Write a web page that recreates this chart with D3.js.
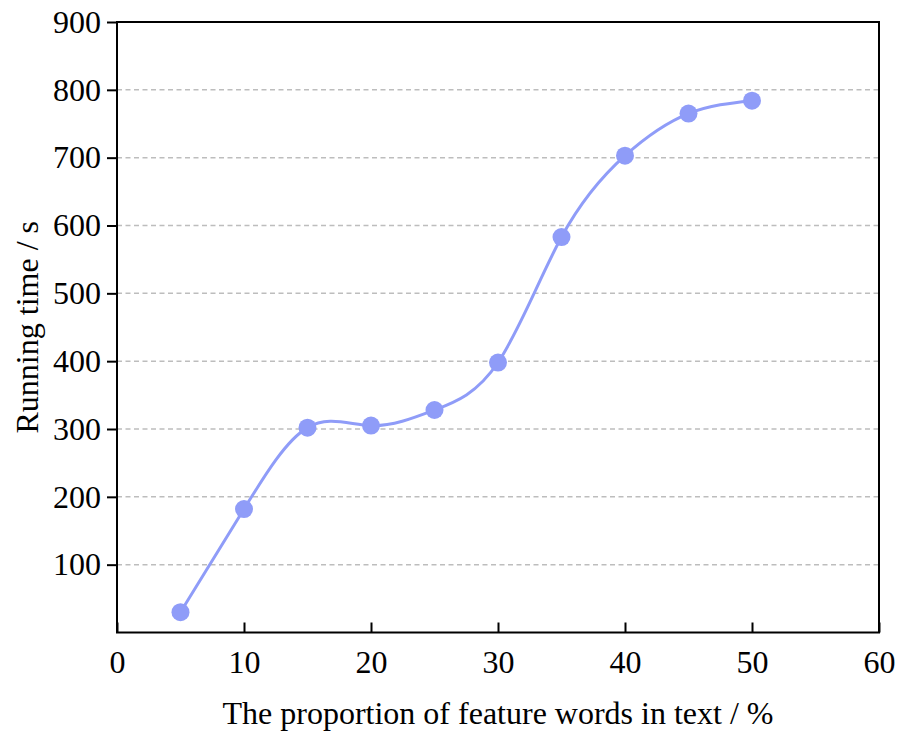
<!DOCTYPE html>
<html>
<head>
<meta charset="utf-8">
<script src="https://cdn.jsdelivr.net/npm/d3@7"></script>
<style>
  body { margin: 0; background: #fff; }
  text { font-family: "Liberation Serif", "Times New Roman", serif; }
</style>
</head>
<body>
<svg id="chart" width="900" height="731"></svg>
<script>
var proportion = [5, 10, 15, 20, 25, 30, 35, 40, 45, 50];
var runningTime = [30, 182, 302, 305, 328, 398, 583, 703, 765, 784];
var xTicks = [0, 10, 20, 30, 40, 50, 60];
var yTicks = [100, 200, 300, 400, 500, 600, 700, 800, 900];
var gridTicks = [100, 200, 300, 400, 500, 600, 700, 800];

var svg = d3.select('#chart');
var plotLeft = 117, plotRight = 879, plotTop = 22, plotBottom = 632.5;

var x = d3.scaleLinear().domain([0, 60]).range([plotLeft, plotRight]);
var y = d3.scaleLinear().domain([0, 900]).range([plotBottom, plotTop]);

// dashed grid
svg.append('g')
  .selectAll('line')
  .data(gridTicks)
  .enter().append('line')
  .attr('x1', plotLeft)
  .attr('x2', plotRight)
  .attr('y1', function(d) { return y(d); })
  .attr('y2', function(d) { return y(d); })
  .style('stroke', '#bdbdbd')
  .style('stroke-width', 1.5)
  .style('stroke-dasharray', '5,3.5');

// frame
svg.append('rect')
  .attr('x', plotLeft)
  .attr('y', plotTop)
  .attr('width', plotRight - plotLeft)
  .attr('height', plotBottom - plotTop)
  .style('fill', 'none')
  .style('stroke', '#000')
  .style('stroke-width', 2);

// x axis, ticks inward
var xAxis = svg.append('g')
  .attr('transform', 'translate(0,' + plotBottom + ')')
  .call(d3.axisBottom(x).tickValues(xTicks).tickSizeInner(-10).tickSizeOuter(0).tickPadding(18));
xAxis.select('.domain').remove();
xAxis.selectAll('line').style('stroke', '#000').style('stroke-width', 2);
xAxis.selectAll('text').style('font-size', '32px').style('fill', '#000')
  .style('font-family', '"Liberation Serif", serif');

// y axis, ticks outward
var yAxis = svg.append('g')
  .attr('transform', 'translate(' + plotLeft + ',0)')
  .call(d3.axisLeft(y).tickValues(yTicks).tickSizeInner(10).tickSizeOuter(0).tickPadding(6));
yAxis.select('.domain').remove();
yAxis.selectAll('line').style('stroke', '#000').style('stroke-width', 2);
yAxis.selectAll('text').style('font-size', '32px').style('fill', '#000')
  .style('font-family', '"Liberation Serif", serif');

// line
var points = proportion.map(function(p, i) { return [p, runningTime[i]]; });
var line = d3.line()
  .x(function(d) { return x(d[0]); })
  .y(function(d) { return y(d[1]); })
  .curve(d3.curveNatural);

svg.append('path')
  .datum(points)
  .attr('d', line)
  .style('fill', 'none')
  .style('stroke', '#8f9cf8')
  .style('stroke-width', 3);

svg.append('g')
  .selectAll('circle')
  .data(points)
  .enter().append('circle')
  .attr('cx', function(d) { return x(d[0]); })
  .attr('cy', function(d) { return y(d[1]); })
  .attr('r', 9)
  .style('fill', '#8f9cf8');

// labels
svg.append('text')
  .attr('x', (plotLeft + plotRight) / 2)
  .attr('y', 724)
  .attr('text-anchor', 'middle')
  .style('font-size', '32px')
  .text('The proportion of feature words in text / %');

svg.append('text')
  .attr('transform', 'translate(38,' + (plotTop + plotBottom) / 2 + ') rotate(-90)')
  .attr('text-anchor', 'middle')
  .style('font-size', '32px')
  .text('Running time / s');
</script>
</body>
</html>
